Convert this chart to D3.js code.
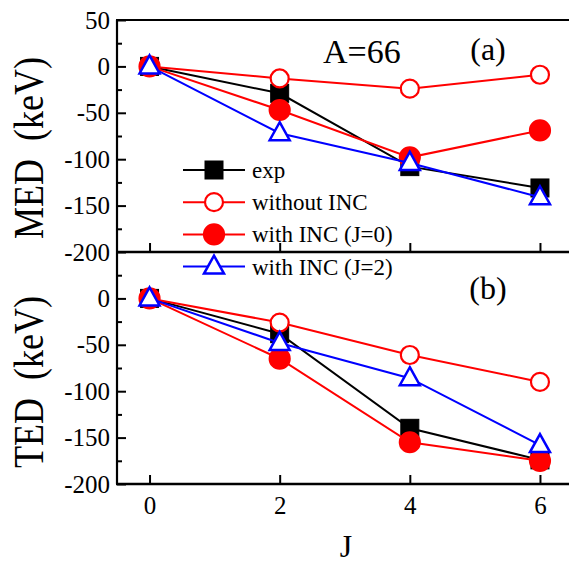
<!DOCTYPE html>
<html>
<head>
<meta charset="utf-8">
<script src="https://cdn.jsdelivr.net/npm/d3@7"></script>
<style>
  body { margin: 0; background: #fff; }
  svg, svg text { font-family: "Liberation Serif", "DejaVu Serif", serif; }
</style>
</head>
<body>
<div id="chart"></div>
<script>
// data
const J = [0, 2, 4, 6];
const medExp   = [0, -29, -108, -131];
const medNoInc = [0, -13, -24, -9];
const medInc0  = [0, -47, -98, -69];
const medInc2  = [0, -72, -104, -141];
const tedExp   = [0, -38, -140, -174];
const tedNoInc = [0, -26, -61, -90];
const tedInc0  = [0, -65, -155, -175];
const tedInc2  = [0, -48, -86, -158];

const xTicks = [0, 2, 4, 6];
const yTicksTop = [50, 0, -50, -100, -150, -200];
const yTicksBottom = [0, -50, -100, -150, -200];
const yMinor = [25, -25, -75, -125, -175];

const seriesNames = ["exp", "without INC", "with INC (J=0)", "with INC (J=2)"];

const width = 569, height = 565;
const left = 117, right = 575;
const serif = '"Liberation Serif", "DejaVu Serif", serif';

const svg = d3.select("#chart").append("svg")
    .attr("width", width)
    .attr("height", height);

const x = d3.scaleLinear().domain([-0.5, 6.5]).range([left, 572.5]);

// series style
const styles = [
    { color: "#000000", shape: "square", fill: "#000000" },
    { color: "#ff0000", shape: "circle", fill: "#ffffff" },
    { color: "#ff0000", shape: "circle", fill: "#ff0000" },
    { color: "#0000ff", shape: "triangle", fill: "#ffffff" }
];

function drawMarker(g, cx, cy, st) {
    if (st.shape === "square") {
        g.append("rect")
            .attr("x", cx - 9).attr("y", cy - 9)
            .attr("width", 18).attr("height", 18)
            .attr("fill", st.fill).attr("stroke", st.color).attr("stroke-width", 1);
    } else if (st.shape === "circle") {
        g.append("circle")
            .attr("cx", cx).attr("cy", cy).attr("r", st.fill === "#ffffff" ? 9 : 10)
            .attr("fill", st.fill).attr("stroke", st.color).attr("stroke-width", 2.2);
    } else {
        g.append("path")
            .attr("d", `M${cx},${cy - 11}L${cx + 10},${cy + 7}L${cx - 10},${cy + 7}Z`)
            .attr("fill", st.fill).attr("stroke", st.color).attr("stroke-width", 2.5)
            .attr("stroke-linejoin", "miter");
    }
}

function drawPanel(top, bottom, seriesList, yTicks, label, labelY, tag, tagY) {
    const y = d3.scaleLinear().domain([-200, 50]).range([bottom, top]);
    const g = svg.append("g");

    // y axis, major + minor ticks pointing inward
    g.append("g")
        .attr("transform", `translate(${left},0)`)
        .call(d3.axisLeft(y).tickValues(yTicks).tickSize(-9).tickSizeOuter(0).tickPadding(7).tickFormat(d => String(d)))
        .attr("font-family", serif)
        .call(a => a.selectAll("text").style("font-size", "25px").style("font-family", serif).attr("fill", "#000"))
        .call(a => a.select(".domain").remove())
        .call(a => a.selectAll("line").attr("stroke-width", 2));

    g.append("g")
        .attr("transform", `translate(${left},0)`)
        .call(d3.axisLeft(y).tickValues(yMinor).tickSize(-5).tickFormat(""))
        .call(a => a.select(".domain").remove())
        .call(a => a.selectAll("line").attr("stroke-width", 2));

    // x axis ticks pointing up
    g.append("g")
        .attr("transform", `translate(0,${bottom})`)
        .call(d3.axisBottom(x).tickValues(xTicks).tickSize(-9).tickSizeOuter(0).tickPadding(12).tickFormat(d => String(d)))
        .attr("font-family", serif)
        .call(a => a.select(".domain").remove())
        .call(a => a.selectAll("line").attr("stroke-width", 2))
        .call(a => a.selectAll("text").style("font-size", "25px").style("font-family", serif).attr("fill", "#000")
            .attr("visibility", tag === "(b)" ? "visible" : "hidden"));

    // frame lines
    g.append("line").attr("x1", left).attr("x2", left).attr("y1", top).attr("y2", bottom)
        .attr("stroke", "#000").attr("stroke-width", 2.2);
    g.append("line").attr("x1", left - 1).attr("x2", right).attr("y1", bottom).attr("y2", bottom)
        .attr("stroke", "#000").attr("stroke-width", 2.5);
    if (tag === "(a)") {
        g.append("line").attr("x1", left - 1).attr("x2", right).attr("y1", top).attr("y2", top)
            .attr("stroke", "#000").attr("stroke-width", 2.2);
    }

    // series
    const line = d3.line().x((d, i) => x(J[i])).y(d => y(d));
    seriesList.forEach((vals, k) => {
        const st = styles[k];
        const sg = g.append("g");
        sg.append("path")
            .attr("d", line(vals))
            .attr("fill", "none")
            .attr("stroke", st.color)
            .attr("stroke-width", 2);
        vals.forEach((v, i) => drawMarker(sg, x(J[i]), y(v), st));
    });

    // y label
    svg.append("text")
        .attr("transform", `translate(43,${labelY}) rotate(-90) scale(1,1.2)`)
        .attr("text-anchor", "middle")
        .style("font-size", "36px")
        .style("white-space", "pre")
        .text(label);

    svg.append("text")
        .attr("x", 488).attr("y", tagY)
        .attr("text-anchor", "middle")
        .style("font-size", "32px")
        .text(tag);
}

drawPanel(20, 252, [medExp, medNoInc, medInc0, medInc2], yTicksTop, "MED  (keV)", 148, "(a)", 60);
drawPanel(252, 484, [tedExp, tedNoInc, tedInc0, tedInc2], yTicksBottom, "TED  (keV)", 382, "(b)", 299);

svg.append("text")
    .attr("x", 323).attr("y", 63)
    .style("font-size", "34px")
    .text("A=66");

// legend
const legend = svg.append("g");
seriesNames.forEach((name, i) => {
    const ly = 170 + i * 32.2;
    const st = styles[i];
    legend.append("line")
        .attr("x1", 183).attr("x2", 245).attr("y1", ly).attr("y2", ly)
        .attr("stroke", st.color).attr("stroke-width", 2);
    drawMarker(legend, 214, ly, st);
    legend.append("text")
        .attr("x", 252).attr("y", ly + 8)
        .style("font-size", "23px")
        .text(name);
});

// x label
svg.append("text")
    .attr("x", 346).attr("y", 557)
    .attr("text-anchor", "middle")
    .style("font-size", "32px")
    .text("J");
</script>
</body>
</html>
